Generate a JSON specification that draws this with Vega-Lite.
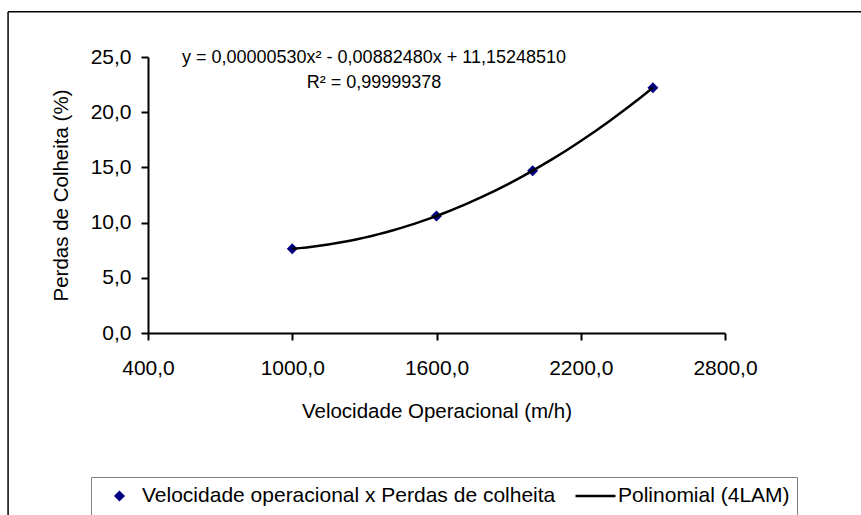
{
  "$schema": "https://vega.github.io/schema/vega-lite/v6.json",
  "autosize": {"type": "none"},
  "padding": {"left": 148, "top": 57, "right": 136, "bottom": 182},
  "width": 577,
  "height": 276,
  "background": "white",
  "config": {
    "locale": {"number": {"decimal": ",", "thousands": ".", "grouping": [3], "currency": ["R$", ""]}},
    "view": {"stroke": null},
    "font": "Liberation Sans",
    "axis": {
      "grid": false,
      "domainColor": "#000000",
      "domainWidth": 2,
      "tickColor": "#000000",
      "tickWidth": 2,
      "tickSize": 7,
      "labelColor": "#000000",
      "labelFont": "Liberation Sans",
      "labelFontSize": 21,
      "labelFlush": false,
      "labelOverlap": false,
      "titleColor": "#000000",
      "titleFont": "Liberation Sans",
      "titleFontSize": 20.5,
      "titleFontWeight": "normal"
    }
  },
  "data": {
    "values": [
      {"velocidade": 1000, "perdas": 7.63},
      {"velocidade": 1600, "perdas": 10.60},
      {"velocidade": 2000, "perdas": 14.70},
      {"velocidade": 2500, "perdas": 22.21}
    ]
  },
  "layer": [
    {
      "data": {"values": [{}]},
      "mark": {"type": "rule", "color": "#000000", "strokeWidth": 1.5, "clip": false},
      "encoding": {
        "x": {"datum": -182, "type": "quantitative"},
        "y": {"datum": 29.1, "type": "quantitative"},
        "y2": {"datum": -20}
      }
    },
    {
      "data": {"values": [{}]},
      "mark": {"type": "rule", "color": "#000000", "strokeWidth": 1.5, "clip": false},
      "encoding": {
        "x": {"datum": -182, "type": "quantitative"},
        "x2": {"datum": 3600},
        "y": {"datum": 29.1, "type": "quantitative"}
      }
    },
    {
      "mark": {"type": "point", "filled": true, "opacity": 1, "stroke": "#000080", "strokeWidth": 2.5},
      "encoding": {
        "x": {
          "field": "velocidade", "type": "quantitative",
          "scale": {"domain": [400, 2800], "nice": false, "zero": false},
          "axis": {"values": [400, 1000, 1600, 2200, 2800], "format": ".1f", "labelPadding": 17, "title": "Velocidade Operacional (m/h)", "titlePadding": 23}
        },
        "y": {
          "field": "perdas", "type": "quantitative",
          "scale": {"domain": [0, 25], "nice": false},
          "axis": {"values": [0, 5, 10, 15, 20, 25], "format": ".1f", "labelPadding": 10, "title": "Perdas de Colheita (%)", "titlePadding": 19}
        },
        "shape": {
          "datum": "Velocidade operacional x Perdas de colheita",
          "type": "nominal",
          "scale": {
            "domain": ["Velocidade operacional x Perdas de colheita", "Polinomial (4LAM)"],
            "range": ["diamond", "stroke"]
          },
          "legend": {"title": null}
        },
        "size": {
          "datum": "Velocidade operacional x Perdas de colheita",
          "type": "ordinal",
          "scale": {
            "domain": ["Velocidade operacional x Perdas de colheita", "Polinomial (4LAM)"],
            "range": [56, 1600]
          },
          "legend": {"title": null}
        },
        "color": {
          "datum": "Velocidade operacional x Perdas de colheita",
          "type": "nominal",
          "scale": {
            "domain": ["Velocidade operacional x Perdas de colheita", "Polinomial (4LAM)"],
            "range": ["#000080", "#000000"]
          },
          "legend": {
            "orient": "none",
            "legendX": -57,
            "legendY": 420,
            "direction": "horizontal",
            "columns": 2,
            "clipHeight": 24,
            "title": null,
            "strokeColor": "#808080",
            "padding": 7,
            "symbolStrokeWidth": 2.5,
            "symbolOpacity": 1,
            "labelFont": "Liberation Sans",
            "labelFontSize": 21,
            "labelColor": "#000000",
            "labelLimit": 0,
            "labelOffset": 1,
            "columnPadding": 18
          }
        }
      }
    },
    {
      "transform": [
        {"regression": "perdas", "on": "velocidade", "method": "poly", "order": 2, "extent": [1000, 2500]}
      ],
      "mark": {"type": "line", "strokeWidth": 2.5},
      "encoding": {
        "x": {"field": "velocidade", "type": "quantitative"},
        "y": {"field": "perdas", "type": "quantitative"},
        "color": {"datum": "Polinomial (4LAM)", "type": "nominal"}
      }
    },
    {
      "data": {"values": [{}]},
      "mark": {"type": "text", "text": "y = 0,00000530x² - 0,00882480x + 11,15248510", "fontSize": 18, "font": "Liberation Sans", "color": "#000000", "baseline": "middle", "align": "center"},
      "encoding": {
        "x": {"datum": 1340, "type": "quantitative"},
        "y": {"datum": 24.95, "type": "quantitative"}
      }
    },
    {
      "data": {"values": [{}]},
      "mark": {"type": "text", "text": "R² = 0,99999378", "fontSize": 18, "font": "Liberation Sans", "color": "#000000", "baseline": "middle", "align": "center"},
      "encoding": {
        "x": {"datum": 1340, "type": "quantitative"},
        "y": {"datum": 22.6, "type": "quantitative"}
      }
    }
  ]
}
